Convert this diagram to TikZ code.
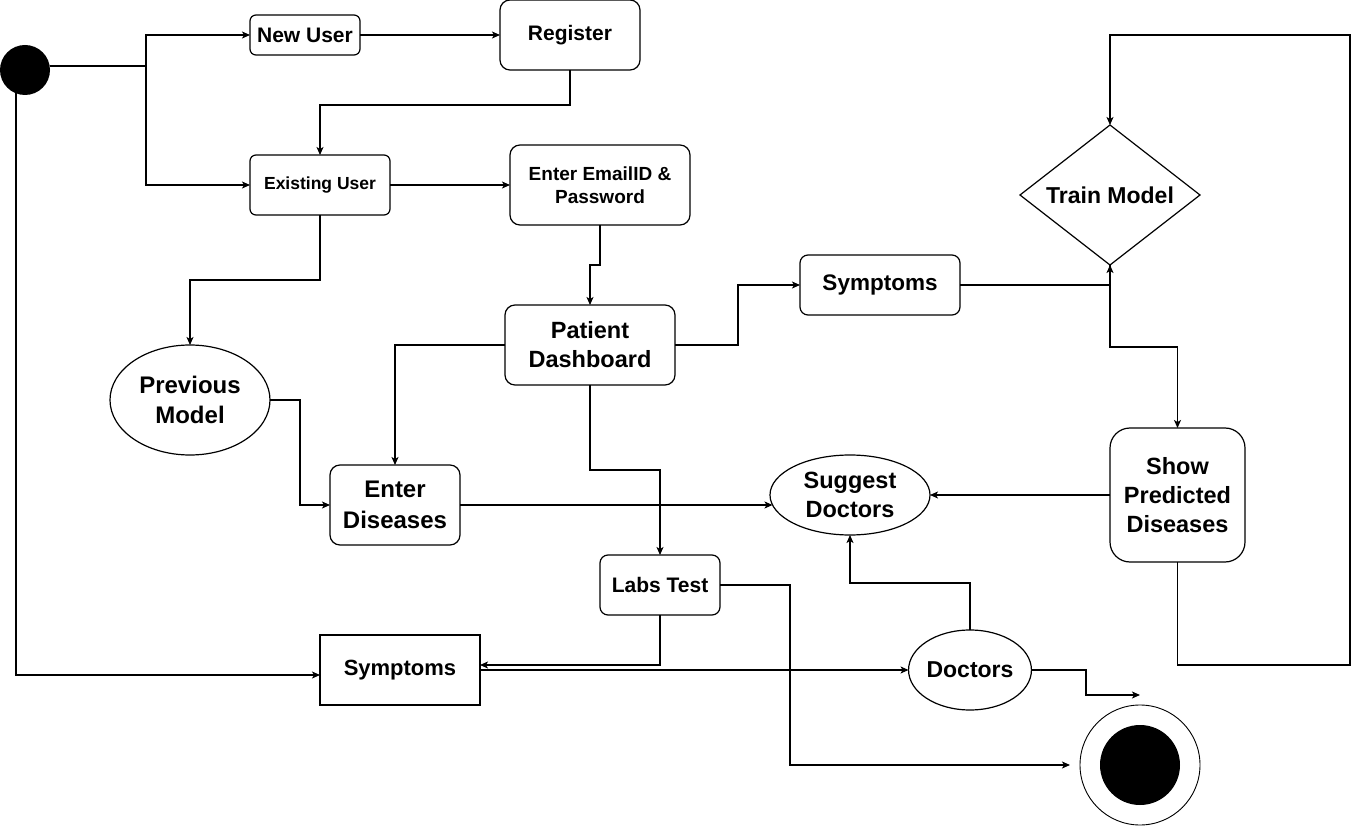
\documentclass[tikz,border=0pt]{standalone}
\usepackage{fontspec}
\setmainfont{Liberation Sans}
\usetikzlibrary{arrows.meta,shapes.geometric,calc}
\begin{document}
\begin{tikzpicture}[x=1pt,y=-1pt,
  every node/.style={inner sep=0pt,outer sep=0pt},
  line width=1.2pt,
  fnt/.style 2 args={font=\bfseries\fontsize{#1}{#2}\selectfont},
  rbox/.style={draw,rectangle,rounded corners=#1,align=center},
  rbox/.default=6pt,
  sbox/.style={draw,rectangle,align=center},
  oval/.style={draw,ellipse,align=center},
  arr/.style={-{Stealth[length=8pt,width=7pt,inset=2pt]}},
  ln/.style={line width=1.2pt}
]
\useasboundingbox (0,0) rectangle (1361,826);

% nodes
\node[circle,fill=black,minimum size=50pt] (start) at (25,70) {};
\node[rbox,fnt={21}{25},minimum width=110pt,minimum height=40pt] (newuser) at (305,35) {New User};
\node[rbox=10pt,fnt={21}{25},minimum width=140pt,minimum height=70pt] (register) at (570,35) {Register};
\node[rbox,fnt={17.5}{21},minimum width=140pt,minimum height=60pt] (existing) at (320,185) {Existing User};
\node[rbox=10pt,fnt={19}{23},minimum width=180pt,minimum height=80pt] (email) at (600,185) {Enter EmailID \&\\Password};
\node[rbox=10pt,fnt={23.5}{29},minimum width=170pt,minimum height=80pt] (dash) at (590,345) {Patient\\Dashboard};
\node[rbox=8pt,fnt={22.5}{27},minimum width=160pt,minimum height=60pt] (symtop) at (880,285) {Symptoms};
\node[draw,diamond,aspect=1.29,fnt={23}{27},minimum width=180pt,minimum height=140pt] (train) at (1110,195) {Train Model};
\node[rbox=20pt,fnt={23.5}{29},minimum width=135pt,minimum height=134pt] (showpred) at (1177.5,495) {Show\\Predicted\\Diseases};
\node[oval,fnt={23.5}{29},minimum width=160pt,minimum height=80pt] (suggest) at (850,495) {Suggest\\Doctors};
\node[oval,fnt={24}{30},minimum width=160pt,minimum height=110pt] (prevmodel) at (190,400) {Previous\\Model};
\node[rbox=10pt,fnt={24}{31},minimum width=130pt,minimum height=80pt] (enterdis) at (395,505) {Enter\\Diseases};
\node[rbox=8pt,fnt={21}{25},minimum width=120pt,minimum height=60pt] (labs) at (660,585) {Labs Test};
\node[sbox,fnt={22}{26},minimum width=160pt,minimum height=70pt] (symbot) at (400,670) {Symptoms};
\node[oval,fnt={23}{27},minimum width=120pt,minimum height=80pt] (doctors) at (970,670) {Doctors};
\node[draw,circle,line width=0.9pt,minimum size=120pt] (endo) at (1140,765) {};
\node[circle,fill=black,minimum size=80pt] (endi) at (1140,765) {};

% connectors
\coordinate (j1) at (146,66);
\draw[arr] ([yshift=4pt]start.east) -- (j1) |- (newuser.west);
\draw[arr] (j1) |- (existing.west);
\draw[arr] ([xshift=-9pt,yshift=2pt]start.south) |- ([yshift=-5pt]symbot.west);
\draw[arr] (newuser.east) -- (register.west);
\draw[arr] (register.south) -- (570,105) -| (existing.north);
\draw[arr] (existing.east) -- (email.west);
\draw[arr] (email.south) -- (600,265) -| (dash.north);
\draw[arr] (dash.east) -- (738,345) |- (symtop.west);
\draw[arr] (symtop.east) -| (train.south);
\draw[arr] (train.south) -- (1110,347) -| (showpred.north);
\draw[arr] (showpred.south) -- (1177.5,665) -| (1350,35) -| (train.north);
\draw[arr] (showpred.west) -- (suggest.east);
\draw[arr] (existing.south) -- (320,280) -| (prevmodel.north);
\draw[arr] (prevmodel.east) -- (300,400) |- (enterdis.west);
\draw[arr] (dash.west) -| (enterdis.north);
\draw[arr] (enterdis.east) -- ([xshift=2.5pt]suggest.west |- enterdis.east);
\draw[arr] (dash.south) -- (590,470) -| (labs.north);
\draw[arr] (labs.east) -- (790,585) |- ([xshift=-10pt]endo.west);
\draw[arr] (labs.south) |- ([yshift=5pt]symbot.east);
\draw[arr] (symbot.east) -- (doctors.west);
\draw[arr] (doctors.north) -- (970,583) -| (suggest.south);
\draw[arr] (doctors.east) -- (1086,670) |- ([yshift=10pt]endo.north);
\end{tikzpicture}
\end{document}
